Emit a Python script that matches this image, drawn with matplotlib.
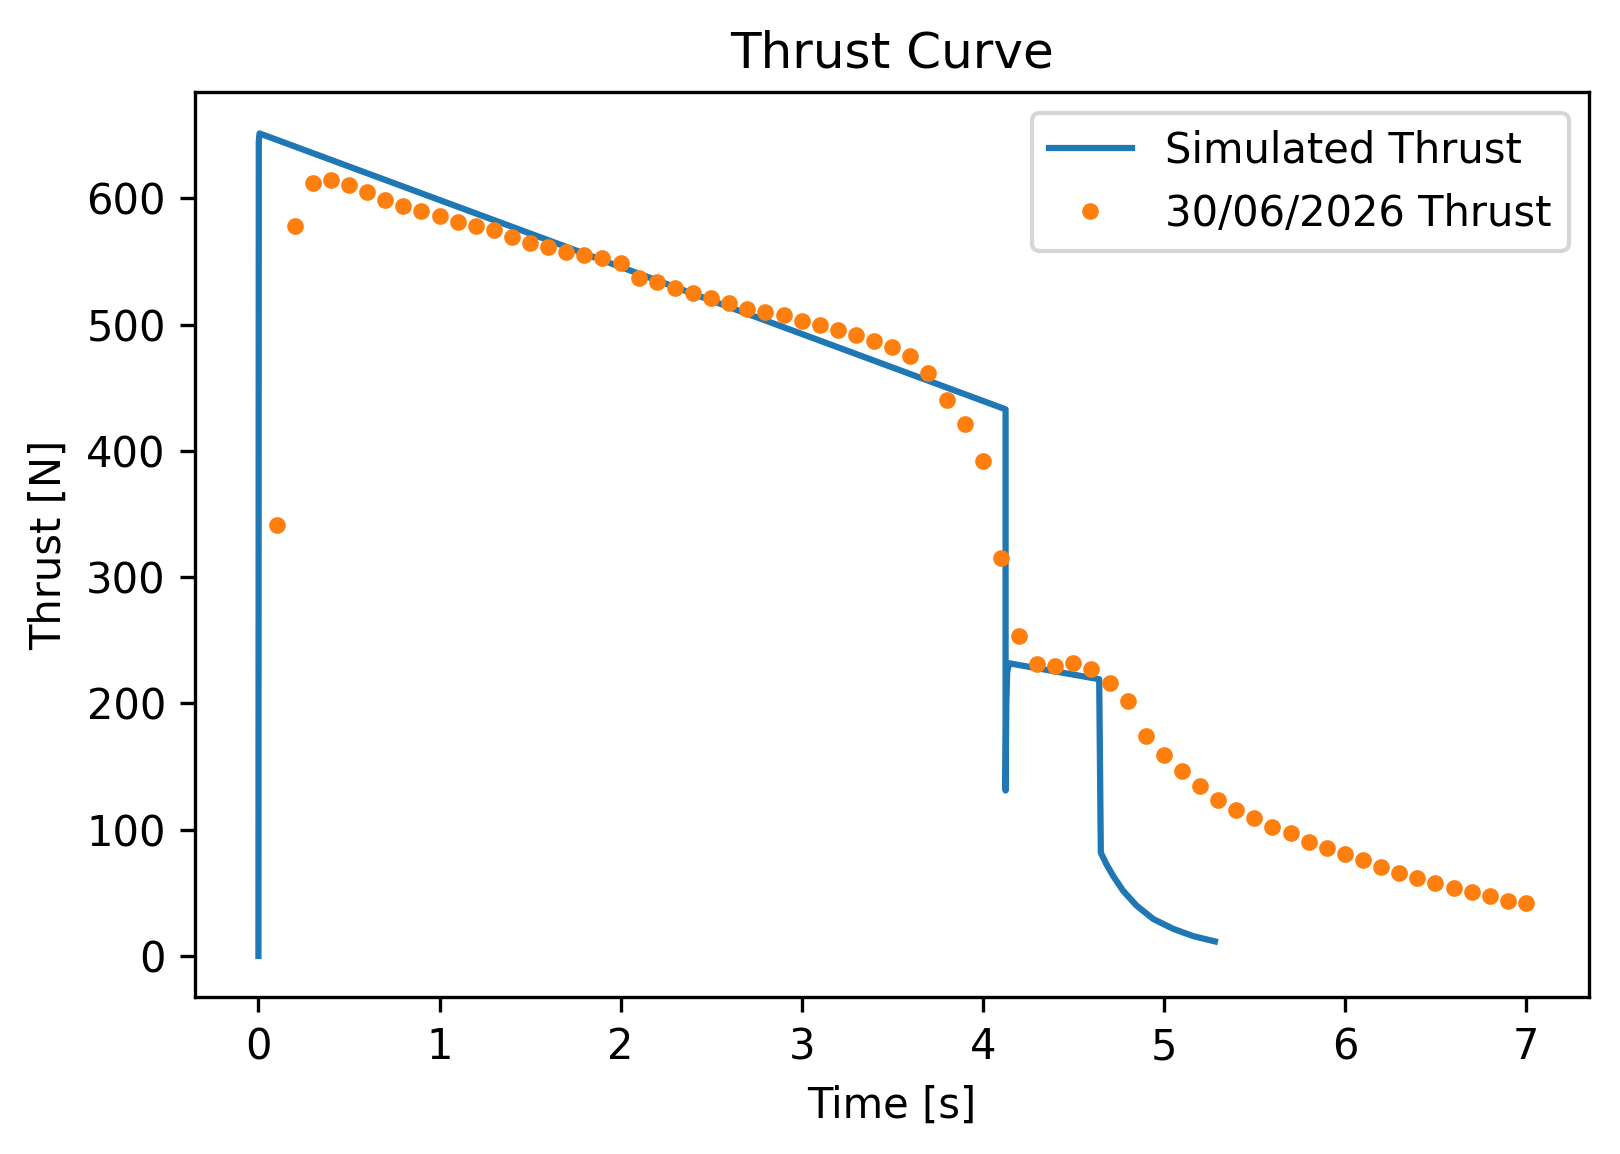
import matplotlib
matplotlib.use('Agg')
import matplotlib.pyplot as plt

# simulated thrust curve (vertices)
sim_time = [0.0, 0.002, 0.006, 4.126, 4.126, 4.130, 4.135, 4.146, 4.643,
            4.652, 4.683, 4.720, 4.775, 4.849, 4.941, 5.051, 5.162, 5.282]
sim_thrust = [0.0, 645.0, 651.5, 433.0, 131.0, 200.0, 225.0, 231.8, 219.2,
              81.8, 72.6, 63.4, 51.6, 39.9, 29.3, 21.5, 15.7, 11.5]

# measured test data, one sample every 0.1 s
test_time = [round(0.1 * i, 1) for i in range(1, 71)]
test_thrust = [341.2, 578.0, 612.2, 614.8, 610.7, 605.1, 599.1, 594.3, 590.3, 586.4,
               581.5, 578.0, 574.9, 569.8, 564.8, 561.2, 557.8, 555.1, 553.0, 549.1,
               537.1, 534.1, 529.4, 524.9, 520.9, 516.9, 512.8, 510.4, 507.5, 503.3,
               499.5, 496.1, 491.7, 486.7, 482.0, 475.6, 461.7, 440.1, 421.2, 392.0,
               314.9, 253.1, 231.2, 229.4, 232.0, 227.3, 216.0, 201.8, 174.2, 159.2,
               146.6, 134.7, 123.7, 115.8, 108.9, 102.4, 97.1, 90.4, 85.8, 80.6,
               75.8, 70.6, 65.9, 61.4, 58.0, 53.5, 50.9, 47.5, 43.8, 42.2]

fig = plt.figure(figsize=(5.4, 3.8467), dpi=300)
ax = fig.add_axes([0.1204, 0.136, 0.8607, 0.784])

ax.plot(sim_time, sim_thrust, label='Simulated Thrust')
ax.plot(test_time, test_thrust, '.', label='30/06/2026 Thrust')

ax.set_title('Thrust Curve')
ax.set_xlabel('Time [s]')
ax.set_ylabel('Thrust [N]')
ax.legend(loc='upper right')

fig.savefig('out.png', dpi=300)
